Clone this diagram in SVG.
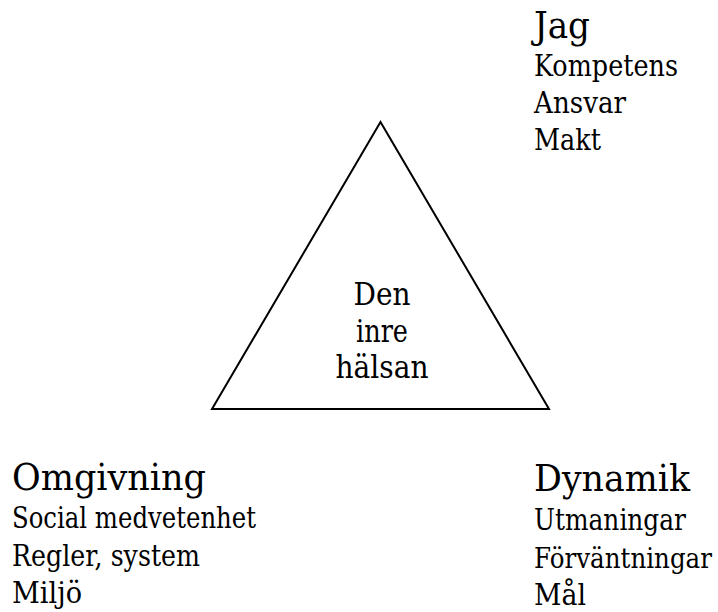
<svg xmlns="http://www.w3.org/2000/svg" width="718" height="612" viewBox="0 0 718 612">
<style type="text/css">
text { font-family: "DejaVu Serif", "Liberation Serif", serif; fill: #000; }
.h { font-size: 37px; }
.s { font-size: 29px; }
.c { font-size: 31px; text-anchor: middle; }
.tri { fill: #fff; stroke: #000; stroke-width: 2; stroke-linejoin: miter; }
</style>
<rect width="718" height="612" fill="#fff"/>
<g id="triangle">
<polygon class="tri" points="380.5,122 212,409 549,409"/>
<text class="c" x="382" y="305" textLength="57" lengthAdjust="spacingAndGlyphs">Den</text>
<text class="c" x="382" y="341.5" textLength="52" lengthAdjust="spacingAndGlyphs">inre</text>
<text class="c" x="382" y="378" textLength="93" lengthAdjust="spacingAndGlyphs">hälsan</text>
</g>
<g id="jag">
<text class="h" x="534" y="38" textLength="56" lengthAdjust="spacingAndGlyphs">Jag</text>
<text class="s" x="534" y="76" textLength="144" lengthAdjust="spacingAndGlyphs">Kompetens</text>
<text class="s" x="534" y="113" textLength="92" lengthAdjust="spacingAndGlyphs">Ansvar</text>
<text class="s" x="534" y="150" textLength="67" lengthAdjust="spacingAndGlyphs">Makt</text>
</g>
<g id="omgivning">
<text class="h" x="12" y="490" textLength="194" lengthAdjust="spacingAndGlyphs">Omgivning</text>
<text class="s" x="12" y="528" textLength="244" lengthAdjust="spacingAndGlyphs">Social medvetenhet</text>
<text class="s" x="12" y="566" textLength="188" lengthAdjust="spacingAndGlyphs">Regler, system</text>
<text class="s" x="12" y="603" textLength="70" lengthAdjust="spacingAndGlyphs">Miljö</text>
</g>
<g id="dynamik">
<text class="h" x="534" y="491" textLength="156" lengthAdjust="spacingAndGlyphs">Dynamik</text>
<text class="s" x="534" y="530" textLength="152" lengthAdjust="spacingAndGlyphs">Utmaningar</text>
<text class="s" x="534" y="568" style="font-size:27px" textLength="178" lengthAdjust="spacingAndGlyphs">Förväntningar</text>
<text class="s" x="534" y="605" textLength="52" lengthAdjust="spacingAndGlyphs">Mål</text>
</g>
<g id="connectors"></g>
</svg>
